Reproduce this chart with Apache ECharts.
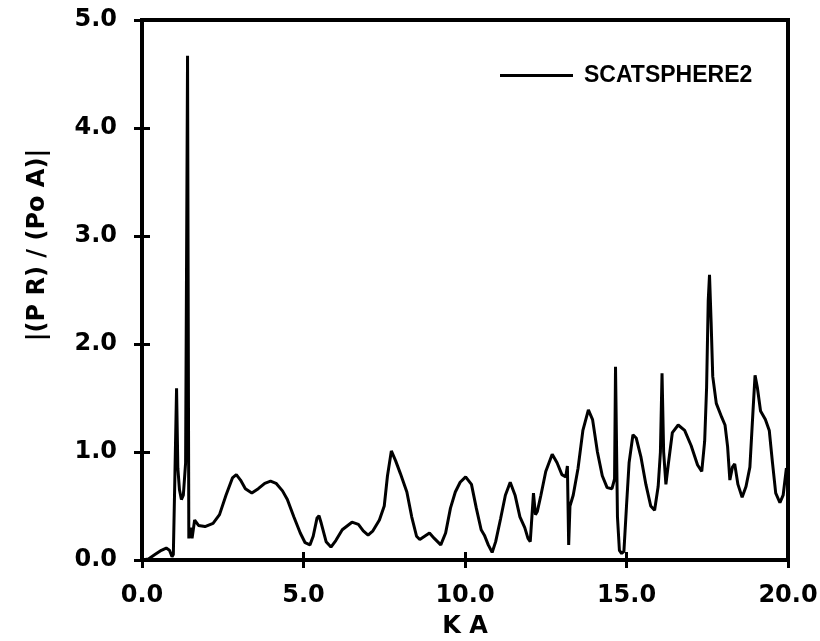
<!DOCTYPE html>
<html>
<head>
<meta charset="utf-8">
<script src="https://cdn.jsdelivr.net/npm/echarts@6/dist/echarts.min.js"></script>
<style>html,body{margin:0;padding:0;background:#fff}#c{width:820px;height:641px}</style>
</head>
<body>
<div id="c"></div>
<script>
const seriesName = 'SCATSPHERE2';
const xTicks = [0, 5, 10, 15, 20];
const yTicks = [0, 1, 2, 3, 4, 5];
const kaValues = [
  0.0, 0.2, 0.4, 0.6, 0.75, 0.85, 0.93, 0.97, 1.02, 1.07,
  1.11, 1.16, 1.22, 1.28, 1.35, 1.41, 1.45, 1.5, 1.55, 1.63,
  1.75, 1.95, 2.2, 2.4, 2.6, 2.8, 2.92, 3.05, 3.2, 3.4,
  3.6, 3.8, 3.98, 4.15, 4.35, 4.5, 4.7, 4.9, 5.05, 5.2,
  5.3, 5.42, 5.48, 5.55, 5.7, 5.85, 6.0, 6.2, 6.5, 6.7,
  6.85, 7.0, 7.15, 7.35, 7.5, 7.6, 7.72, 7.85, 8.0, 8.2,
  8.35, 8.5, 8.6, 8.75, 8.9, 9.05, 9.25, 9.4, 9.55, 9.7,
  9.85, 10.02, 10.2, 10.35, 10.5, 10.6, 10.72, 10.84, 10.95, 11.1,
  11.25, 11.4, 11.55, 11.7, 11.85, 11.95, 12.02, 12.12, 12.18, 12.24,
  12.35, 12.5, 12.7, 12.85, 13.0, 13.12, 13.17, 13.21, 13.25, 13.35,
  13.5, 13.65, 13.82, 13.95, 14.1, 14.25, 14.4, 14.55, 14.63, 14.66,
  14.72, 14.78, 14.85, 14.92, 15.0, 15.08, 15.2, 15.3, 15.45, 15.6,
  15.75, 15.87, 15.98, 16.05, 16.1, 16.15, 16.22, 16.3, 16.42, 16.6,
  16.8, 17.0, 17.2, 17.33, 17.42, 17.48, 17.53, 17.57, 17.62, 17.67,
  17.78, 17.95, 18.05, 18.13, 18.2, 18.28, 18.35, 18.45, 18.58, 18.7,
  18.82, 18.92, 18.98, 19.05, 19.15, 19.3, 19.42, 19.52, 19.62, 19.75,
  19.85, 19.95, 20.0
];
const ampValues = [
  0.0, 0.01, 0.05, 0.09, 0.11, 0.09, 0.03, 0.05, 0.8, 1.59,
  0.85, 0.65, 0.56, 0.6, 0.9, 4.67, 0.2, 0.3, 0.2, 0.37,
  0.32, 0.31, 0.34, 0.42, 0.6, 0.76, 0.79, 0.74, 0.66, 0.62,
  0.66, 0.71, 0.73, 0.71, 0.64, 0.56, 0.4, 0.25, 0.16, 0.14,
  0.22, 0.39, 0.41, 0.34, 0.17, 0.12, 0.18, 0.28, 0.35, 0.33,
  0.27, 0.23, 0.27, 0.37, 0.5, 0.78, 1.01, 0.92, 0.8, 0.63,
  0.4, 0.22, 0.19, 0.22, 0.25, 0.2, 0.14, 0.25, 0.48, 0.63,
  0.72, 0.77, 0.7, 0.48, 0.28, 0.23, 0.14, 0.07, 0.17, 0.38,
  0.6, 0.72, 0.6, 0.4, 0.3, 0.2, 0.17, 0.62, 0.42, 0.45,
  0.6, 0.82, 0.98, 0.9, 0.79, 0.77, 0.87, 0.14, 0.5, 0.6,
  0.85, 1.2, 1.39, 1.3, 1.0, 0.78, 0.67, 0.66, 0.75, 1.79,
  0.4, 0.09, 0.06, 0.08, 0.5, 0.9, 1.16, 1.13, 0.95, 0.7,
  0.5, 0.46, 0.68, 1.0, 1.73, 1.0, 0.7, 0.9, 1.18, 1.25,
  1.2, 1.06, 0.88, 0.82, 1.1, 1.6, 2.4, 2.64, 2.2, 1.7,
  1.45, 1.32, 1.25, 1.05, 0.74, 0.86, 0.89, 0.7, 0.58, 0.68,
  0.86, 1.4, 1.71, 1.6, 1.38, 1.3, 1.2, 0.9, 0.62, 0.53,
  0.6, 0.85, 0.8
];

const data = kaValues.map((k, i) => [k, ampValues[i]]);
const numFont = 'DejaVu Sans';
const chart = echarts.init(document.getElementById('c'), null, {renderer: 'canvas'});
const tickStyle = {show: true, inside: true, length: 8, lineStyle: {color: '#000', width: 3}};
const fmt = v => v.toFixed(1);
chart.setOption({
  animation: false,
  backgroundColor: '#fff',
  grid: {left: 142, right: 32, top: 20, bottom: 81, outerBoundsMode: 'none', containLabel: false, show: true, borderColor: '#000', borderWidth: 4, backgroundColor: 'transparent'},
  legend: {
    data: [{name: seriesName, icon: 'rect'}], left: 495, top: 59, itemWidth: 73, itemHeight: 3,
    itemStyle: {color: '#000'},
    textStyle: {fontFamily: 'Liberation Sans', fontWeight: 'bold', fontSize: 23, color: '#000', padding: [0, 0, 0, 6]}
  },
  xAxis: [{
    type: 'value', min: xTicks[0], max: xTicks[xTicks.length - 1], interval: 5,
    axisLine: {show: false}, axisTick: tickStyle, splitLine: {show: false},
    axisLabel: {formatter: fmt, fontFamily: numFont, fontWeight: 'bold', fontSize: 24, color: '#000', margin: 24, showMinLabel: true, showMaxLabel: true},
    name: 'K A', nameLocation: 'middle', nameGap: 55,
    nameTextStyle: {fontFamily: numFont, fontWeight: 'bold', fontSize: 24, color: '#000'}
  }, {
    type: 'value', position: 'top', min: 0, max: 20, interval: 5,
    axisLine: {show: false}, axisTick: tickStyle, axisLabel: {show: false}, splitLine: {show: false}
  }],
  yAxis: [{
    type: 'value', min: yTicks[0], max: yTicks[yTicks.length - 1], interval: 1,
    axisLine: {show: false}, axisTick: tickStyle, splitLine: {show: false},
    axisLabel: {formatter: fmt, fontFamily: numFont, fontWeight: 'bold', fontSize: 24, color: '#000', margin: 25}
  }, {
    type: 'value', position: 'right', min: 0, max: 5, interval: 1,
    axisLine: {show: false}, axisTick: tickStyle, axisLabel: {show: false}, splitLine: {show: false}
  }],
  graphic: [{
    type: 'text', x: 38, y: 245, rotation: Math.PI / 2,
    style: {text: '|(P R) / (Po A)|', fontFamily: numFont, fontWeight: 'bold', fontSize: 24, fill: '#000', align: 'center', verticalAlign: 'middle'}
  }],
  series: [{
    name: seriesName, type: 'line', data: data, symbol: 'none', smooth: false,
    lineStyle: {color: '#000', width: 3}, itemStyle: {color: '#000'}
  }]
});
</script>
</body>
</html>
